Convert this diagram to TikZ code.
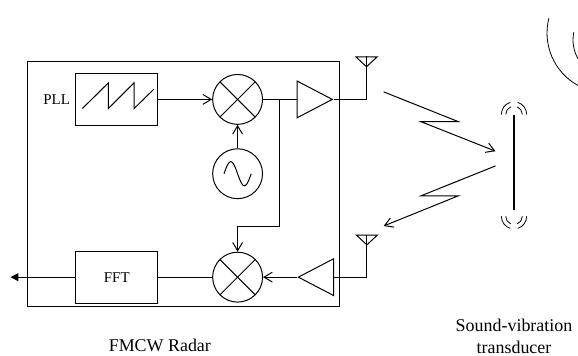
\documentclass[tikz,border=0pt]{standalone}
\usepackage{fontspec}
\setmainfont{Liberation Serif}
\usepackage{tikz}
\usetikzlibrary{arrows.meta,positioning,shapes.geometric}
\tikzset{
  lineBase/.style={line width=0.75pt, draw=black},
  radarBox/.style={lineBase, rectangle},
  blockBox/.style={lineBase, rectangle, minimum width=2.16cm, minimum height=1.38cm, inner sep=0pt, font=\fontsize{11.25}{13.5}\selectfont},
  roundNode/.style={lineBase, circle, minimum size=1.32cm, inner sep=0pt},
  mixerNode/.style={roundNode, path picture={
    \draw[line width=0.75pt] (path picture bounding box.north west) -- (path picture bounding box.south east);
    \draw[line width=0.75pt] (path picture bounding box.south west) -- (path picture bounding box.north east);}},
  ampNode/.style={lineBase, isosceles triangle, isosceles triangle stretches, minimum width=0.97cm, minimum height=0.93cm, inner sep=0pt},
  antNode/.style={lineBase, isosceles triangle, isosceles triangle stretches, shape border rotate=270, minimum width=0.56cm, minimum height=0.26cm, inner sep=0pt},
  barNode/.style={fill=black, rectangle, minimum width=0.07cm, minimum height=2.53cm, inner sep=0pt},
  plainArrow/.style={lineBase, -{Straight Barb[length=2.2mm,width=2.6mm]}},
  outArrow/.style={lineBase, -{Triangle[length=2.1mm,width=2.1mm]}},
  plainLine/.style={lineBase},
  waveLine/.style={line width=0.6pt, draw=black},
  boxLabel/.style={font=\fontsize{11.25}{13.5}\selectfont, inner sep=0pt},
  capLabel/.style={font=\fontsize{13.5}{16}\selectfont, align=center, inner sep=0pt}
}
\begin{document}
\begin{tikzpicture}
  \useasboundingbox (0,0) rectangle (15.293,-9.419);

  \node[radarBox, minimum width=8.27cm, minimum height=6.48cm] (radar) at (4.85,-4.88) {};
  \node[blockBox] (pll) at (3.09,-2.63) {};
  \node[mixerNode, right=1.43cm of pll] (mixerUp) {};
  \node[roundNode, below=0.62cm of mixerUp] (osc) {};
  \node[mixerNode, below=1.39cm of osc] (mixerDown) {};
  \node[blockBox, left=1.43cm of mixerDown] (fft) {FFT};
  \node[ampNode, right=0.89cm of mixerUp] (ampUp) {};
  \node[ampNode, shape border rotate=180, right=0.9cm of mixerDown] (ampDown) {};
  \node[antNode, above right=0.83cm and 0.87cm of ampUp.apex, anchor=apex] (antUp) {};
  \node[antNode, above right=0.82cm and 0.87cm of ampDown.lower side, anchor=apex] (antDown) {};
  \node[boxLabel, left=0.14cm of pll] (pllLabel) {PLL};
  \node[capLabel] (radarLabel) at (4.23,-9.13) {FMCW Radar};
  \node[barNode] (bar) at (13.6,-4.3) {};
  \node[capLabel, below=2.87cm of bar.south, anchor=north] (barLabel) {Sound-vibration\\ transducer};

  \coordinate[right=0.44cm of mixerUp] (tap);
  \coordinate[above=0.67cm of mixerDown] (bend);
  \coordinate[left=1.72cm of fft] (outEnd);
  \coordinate (txA) at (10.15,-2.43);
  \coordinate (txB) at (12.13,-3.22);
  \coordinate (txC) at (11.14,-3.22);
  \coordinate (txD) at (13.11,-4.0);
  \coordinate (rxA) at (13.11,-4.39);
  \coordinate (rxB) at (11.14,-5.18);
  \coordinate (rxC) at (12.13,-5.18);
  \coordinate (rxD) at (10.15,-5.98);

  \draw[plainLine] ([shift={(-0.91,-0.24)}]pll.center) -- ++(0.69,0.68) -- ++(0,-0.68) -- ++(0.68,0.68) -- ++(0,-0.68) -- ++(0.52,0.51);
  \draw[plainLine, shift={(osc.center)}, domain=-1:1, samples=25, smooth] plot ({0.36*\x},{-0.32*sin(180*\x)});

  \draw[plainArrow] (pll) -- (mixerUp);
  \draw[plainArrow] (osc) -- (mixerUp);
  \draw[plainLine] (mixerUp) -- (ampUp.lower side);
  \draw[plainLine] (ampUp.apex) -| (antUp.lower side);
  \draw[plainArrow] (tap) |- (bend) -- (mixerDown.north);
  \draw[plainLine] (antDown.lower side) |- (ampDown.lower side);
  \draw[plainArrow] (ampDown.apex) -- (mixerDown.east);
  \draw[plainLine] (mixerDown) -- (fft);
  \draw[outArrow] (fft) -- (outEnd);
  \draw[plainArrow] (txA) -- (txB) -- (txC) -- (txD);
  \draw[plainArrow] (rxA) -- (rxB) -- (rxC) -- (rxD);

  % sound waves round the bar
  \draw[waveLine] (bar.north) ++(0:0.335) arc (0:73:0.335);
  \draw[waveLine] (bar.north) ++(107:0.335) arc (107:180:0.335);
  \draw[waveLine] (bar.north) ++(0:0.22) arc (0:67:0.22);
  \draw[waveLine] (bar.north) ++(113:0.22) arc (113:180:0.22);
  \draw[waveLine] ([yshift=-0.15cm]bar.south) ++(180:0.335) arc (180:253:0.335);
  \draw[waveLine] ([yshift=-0.15cm]bar.south) ++(287:0.335) arc (287:360:0.335);
  \draw[waveLine] ([yshift=-0.15cm]bar.south) ++(180:0.22) arc (180:247:0.22);
  \draw[waveLine] ([yshift=-0.15cm]bar.south) ++(293:0.22) arc (293:360:0.22);

  % arcs at the top right corner
  \draw[waveLine] (16.06,-0.873) ++(165.5:1.587) arc (165.5:241:1.587);
  \draw[waveLine] (16.166,-1.058) ++(168:1.005) arc (168:209.7:1.005);
\end{tikzpicture}
\end{document}
